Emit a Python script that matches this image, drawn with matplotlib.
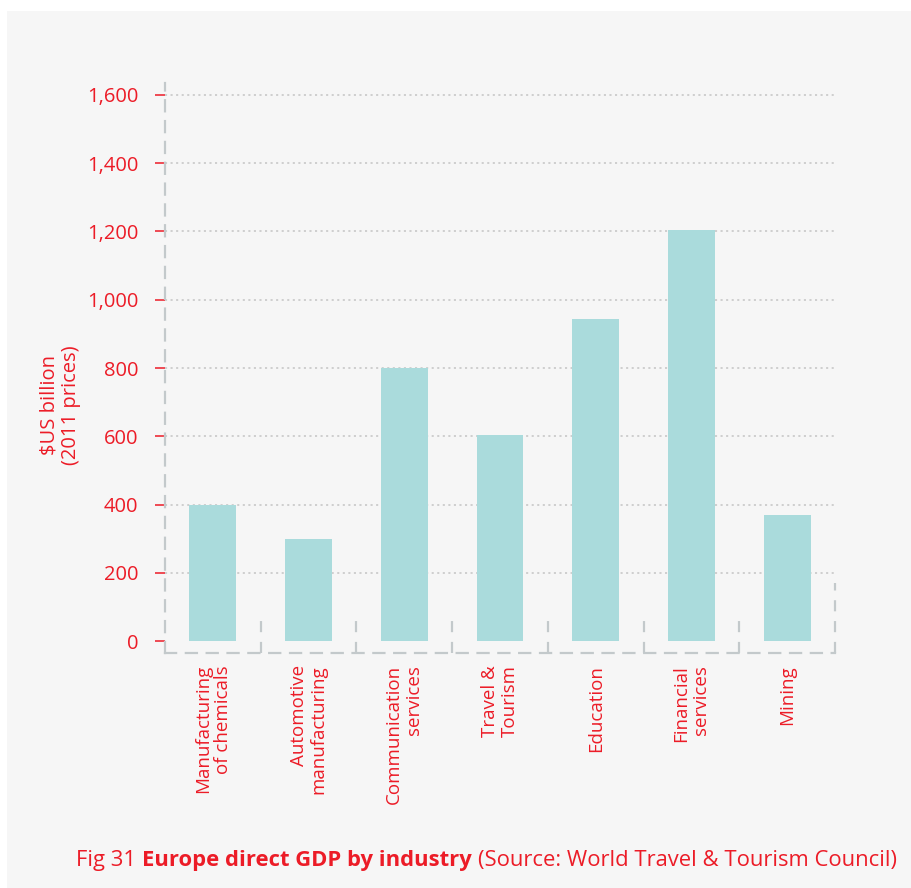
import matplotlib
matplotlib.use("Agg")
import matplotlib.pyplot as plt
from matplotlib.patches import Rectangle
import numpy as np

plt.rcParams['font.family'] = ['Open Sans', 'DejaVu Sans']
plt.rcParams['lines.scale_dashes'] = False

# Europe direct GDP by industry, $US billion (2011 prices)
industries = ["Manufacturing\nof chemicals", "Automotive\nmanufacturing",
              "Communication\nservices", "Travel &\nTourism", "Education",
              "Financial\nservices", "Mining"]
gdp = [400, 300, 800, 605, 945, 1205, 370]
yticks = [0, 200, 400, 600, 800, 1000, 1200, 1400, 1600]
ytick_labels = ["0", "200", "400", "600", "800", "1,000", "1,200", "1,400", "1,600"]

red = "#ec1c27"
bar_color = "#aadbdc"
frame_color = "#c3c9cb"
dash = (0, (8, 7))

W, H = 911, 888
fig = plt.figure(figsize=(W / 100, H / 100), dpi=100, facecolor="white")
fig.patches.append(Rectangle((7 / W, 0), 1, 1 - 11 / H, transform=fig.transFigure,
                             facecolor="#f6f6f6", edgecolor="none", zorder=-10))

ax = fig.add_axes([165 / W, (H - 653) / H, 670 / W, (653 - 83) / H])
ax.set_facecolor("none")

x = np.arange(len(industries))
ax.bar(x, gdp, width=0.49, color=bar_color, zorder=3)

ax.set_xlim(-0.5, len(industries) - 0.5)
ax.set_ylim(-35, 1635)

# dotted guides
for t in yticks[1:]:
    ax.axhline(t, color="#c8c8c8", lw=1.2, ls=(0, (1.5, 2.5)), zorder=1)

# dashed frame pieces
for side in ["top", "right"]:
    ax.spines[side].set_visible(False)
for side in ["left", "bottom"]:
    ax.spines[side].set_color(frame_color)
    ax.spines[side].set_linewidth(1.6)
    ax.spines[side].set_linestyle(dash)
ax.vlines(x[:-1] + 0.5, -35, 62, colors=frame_color, lw=1.6, linestyles=[dash], zorder=2)
ax.vlines([len(industries) - 0.5], -35, 170, colors=frame_color, lw=1.6,
          linestyles=[dash], zorder=2, clip_on=False)

ax.set_yticks(yticks)
ax.set_yticklabels(ytick_labels)
ax.tick_params(axis="y", colors=red, length=7, width=1.1, pad=12, labelsize=14.5)
ax.set_xticks([])

for xi, name in zip(x, industries):
    ax.text(xi, -70, name, rotation=90, ha="center", va="top", multialignment="right",
            color=red, fontsize=13.5, linespacing=1.15)

fig.text(60 / W, 1 - 405 / H, "$US billion\n(2011 prices)", rotation=90, ha="center",
         va="center", multialignment="center", color=red, fontsize=14.5, linespacing=1.1)

# caption with a bold middle part
cap_y = 1 - 866 / H
cap_size = 15.8
t1 = fig.text(76 / W, cap_y, "Fig 31", color=red, fontsize=cap_size, va="baseline")
t2 = fig.text(0, 0, "Europe direct GDP by industry", color=red, fontsize=cap_size,
              fontweight="bold", va="baseline")
t3 = fig.text(0, 0, "(Source: World Travel & Tourism Council)", color=red,
              fontsize=cap_size, va="baseline")
fig.canvas.draw()
r = fig.canvas.get_renderer()
gap = 6
bb = t1.get_window_extent(r)
t2.set_position(((bb.x1 + gap) / W, cap_y))
bb = t2.get_window_extent(r)
t3.set_position(((bb.x1 + gap) / W, cap_y))

fig.savefig("out.png", dpi=100, facecolor="white")
